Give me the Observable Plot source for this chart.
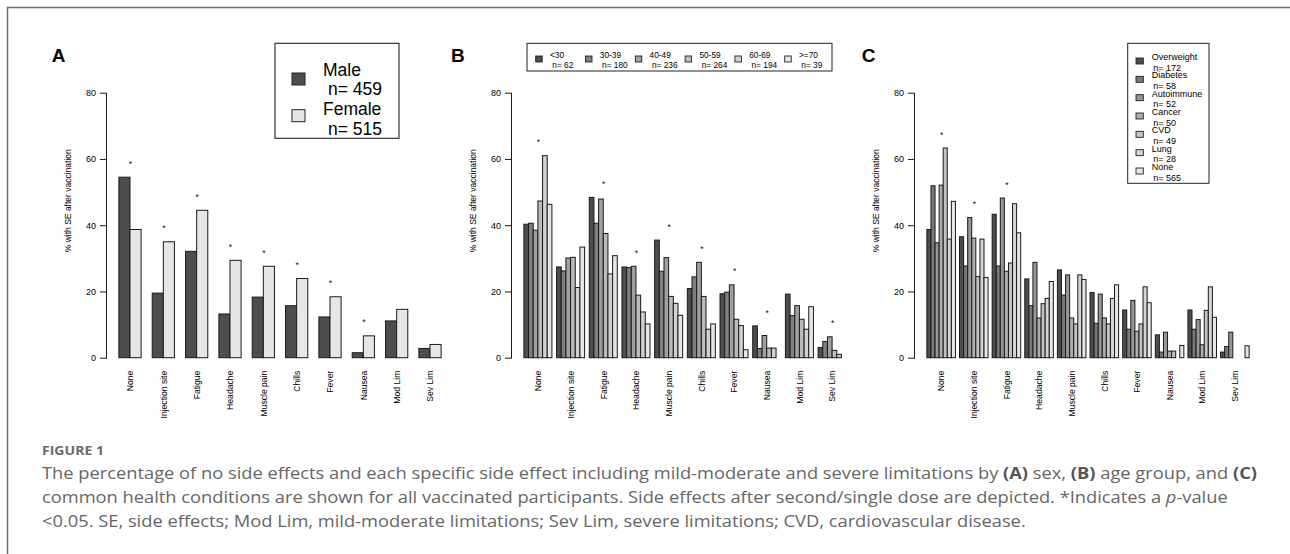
<!DOCTYPE html>
<html><head><meta charset="utf-8">
<script src="https://cdn.jsdelivr.net/npm/d3@7"></script>
<script src="https://cdn.jsdelivr.net/npm/@observablehq/plot@0.6"></script>
<style>
html,body{margin:0;padding:0;background:#fff;}
#root{position:relative;width:1290px;height:554px;overflow:hidden;font-family:"Liberation Sans",Arial,sans-serif;}
#root svg.panel{position:absolute;top:0;}
</style></head><body><div id="root"></div>
<script>
// ---------- data ----------
const effects = ["None","Injection site","Fatigue","Headache","Muscle pain","Chills","Fever","Nausea","Mod Lim","Sev Lim"];
const yTicks = [0, 20, 40, 60, 80];

// (A) sex
const sexGroups = ["Male", "Female"];
const sexN = [459, 515];
const sexMale   = [54.5, 19.5, 32.1, 13.2, 18.3, 15.7, 12.3, 1.5, 11.1, 2.8];
const sexFemale = [38.7, 35.0, 44.5, 29.4, 27.6, 23.9, 18.4, 6.6, 14.6, 4.0];
const sexSignificant = ["None","Injection site","Fatigue","Headache","Muscle pain","Chills","Fever","Nausea"];

// (B) age group
const ageGroups = ["<30", "30-39", "40-49", "50-59", "60-69", ">=70"];
const ageN = [62, 180, 236, 264, 194, 39];
const ageLt30  = [40.3, 27.4, 48.4, 27.4, 35.5, 20.9, 19.3, 9.6, 19.2, 3.1];
const age30s   = [40.6, 26.2, 40.6, 27.2, 26.1, 24.4, 19.8, 2.8, 12.7, 4.9];
const age40s   = [38.5, 30.1, 47.9, 27.6, 30.2, 28.8, 22.0, 6.7, 15.7, 6.3];
const age50s   = [47.3, 30.3, 37.5, 18.9, 18.5, 18.5, 11.6, 2.9, 11.6, 2.2];
const age60s   = [61.0, 21.2, 25.3, 13.8, 16.4, 8.6, 9.7, 2.9, 8.6, 1.0];
const age70up  = [46.3, 33.4, 30.8, 10.2, 12.8, 10.2, 2.4, 0, 15.4, 0];
const ageSignificant = ["None","Fatigue","Headache","Muscle pain","Chills","Fever","Nausea","Sev Lim"];

// (C) health conditions
const condGroups = ["Overweight", "Diabetes", "Autoimmune", "Cancer", "CVD", "Lung", "None"];
const condN = [172, 58, 52, 50, 49, 28, 565];
const condOverweight = [38.7, 36.5, 43.3, 23.8, 26.5, 19.7, 14.4, 6.9, 14.4, 1.7];
const condDiabetes   = [51.9, 27.7, 27.7, 15.7, 18.9, 10.4, 8.6, 1.7, 8.6, 3.4];
const condAutoimmune = [34.7, 42.3, 48.2, 28.8, 25.0, 19.2, 17.3, 7.7, 11.5, 7.7];
const condCancer     = [52.1, 36.1, 26.1, 12.0, 12.0, 12.0, 8.0, 2.0, 3.9, 0];
const condCVD        = [63.3, 24.5, 28.6, 16.3, 10.2, 10.2, 10.2, 2.0, 14.3, 0];
const condLung       = [35.8, 35.8, 46.5, 17.9, 25.0, 17.9, 21.4, 0, 21.4, 0];
const condNone       = [47.2, 24.2, 37.7, 23.0, 23.6, 22.0, 16.6, 3.7, 12.2, 3.6];
const condSignificant = ["None","Injection site","Fatigue"];

// ---------- drawing ----------
const root = document.getElementById("root");
const FONT = "'Liberation Sans', Arial, sans-serif";

function grays(n) {
  // R gray.colors(n): start 0.3, end 0.9, gamma 2.2
  const a = Math.pow(0.3, 2.2), b = Math.pow(0.9, 2.2);
  return d3.range(n).map(i => {
    const v = Math.round(255 * Math.pow(a + (b - a) * (n === 1 ? 0 : i / (n - 1)), 1 / 2.2));
    return d3.rgb(v, v, v).formatHex();
  });
}

function drawPanel({groups, values, significant, regionLeft}) {
  const n = groups.length, per = n + 1, W = effects.length * per;
  const ext = 0.04 * (W - 1);
  const colors = grays(n);
  const rows = [];
  effects.forEach((e, gi) => groups.forEach((g, si) =>
    rows.push({effect: e, group: g, value: values[si][gi], x1: gi * per + 1 + si, x2: gi * per + 2 + si})));
  const centerOf = new Map(effects.map((e, gi) => [gi * per + 1 + n / 2, e]));
  const centers = [...centerOf.keys()];
  const stars = effects.map((e, gi) => ({effect: e, x: gi * per + 1 + n / 2, y: d3.max(values, v => v[gi]) + 4.8}))
    .filter(d => significant.includes(d.effect));
  const mL = 107, regionW = 348, mR = 10;
  const chart = Plot.plot({
    width: mL + regionW + mR, height: 440,
    marginLeft: mL, marginRight: mR, marginTop: 92.7, marginBottom: 82.3,
    style: {fontFamily: FONT, fontSize: "8.5px", color: "#000", background: "transparent", overflow: "visible"},
    x: {domain: [1 - ext, W + ext]},
    y: {domain: [0, 80]},
    color: {type: "ordinal", domain: groups, range: colors},
    marks: [
      Plot.rect(rows, {x1: "x1", x2: "x2", y1: 0, y2: "value", fill: "group", stroke: "#1a1a1a", strokeWidth: 1}),
      Plot.text(stars, {x: "x", y: "y", text: () => "*", fontSize: 8.5, dy: 2.3, fill: "#111"}),
      Plot.frame({anchor: "left", stroke: "#1a1a1a", strokeWidth: 1}),
      Plot.axisY({ticks: yTicks, tickSize: 6, tickPadding: 4.5, fontSize: 9, label: null, stroke: "#1a1a1a"}),
      Plot.axisX({ticks: centers, tickFormat: d => centerOf.get(d), tickRotate: -90, tickSize: 0, tickPadding: 12.5, fontSize: 8.6, label: null}),
      Plot.text(["% with SE after vaccination"], {text: d => d, frameAnchor: "left", rotate: -90, textAnchor: "middle", lineAnchor: "middle", dx: -38, dy: -25, fontSize: 8.5})
    ]
  });
  chart.classList.add("panel");
  chart.style.left = (regionLeft - mL) + "px";
  root.appendChild(chart);
  return colors;
}

const colA = drawPanel({groups: sexGroups, values: [sexMale, sexFemale], significant: sexSignificant, regionLeft: 106.4});
const colB = drawPanel({groups: ageGroups, values: [ageLt30, age30s, age40s, age50s, age60s, age70up], significant: ageSignificant, regionLeft: 511.1});
const colC = drawPanel({groups: condGroups, values: [condOverweight, condDiabetes, condAutoimmune, condCancer, condCVD, condLung, condNone], significant: condSignificant, regionLeft: 914.4});

// ---------- overlay: frame, panel letters, legends, caption ----------
const ov = d3.select(root).append("svg")
  .attr("width", 1290).attr("height", 554)
  .style("position", "absolute").style("left", 0).style("top", 0).style("pointer-events", "none")
  .style("font-family", FONT);

ov.append("path").attr("d", "M7.5,554V7.5H1290").attr("fill", "none").attr("stroke", "#6e6e6e").attr("stroke-width", 1.5);

[["A", 51.7], ["B", 451], ["C", 861.7]].forEach(([t, x]) =>
  ov.append("text").attr("x", x).attr("y", 61.7).attr("font-size", 19).attr("font-weight", "bold").text(t));

function txt(t, x, y, size, fill = "#000") {
  return ov.append("text").attr("x", x).attr("y", y).attr("font-size", size).attr("fill", fill).text(t);
}
function box(x, y, w, h, fill, sw = 1) {
  return ov.append("rect").attr("x", x).attr("y", y).attr("width", w).attr("height", h)
    .attr("fill", fill).attr("stroke", "#222").attr("stroke-width", sw);
}

// Legend A
box(275, 43.3, 124, 95, "#fff", 1.1);
sexGroups.forEach((g, i) => {
  box(292, 73 + i * 36.7, 13, 12, colA[i], 1);
  txt(g, 323, 75.5 + i * 39, 17.5);
  txt("n= " + sexN[i], 328, 95 + i * 39.5, 17.5);
});

// Legend B
box(527, 43.3, 305, 27.7, "#fff", 1);
ageGroups.forEach((g, i) => {
  const x = 535.7 + i * 49.8;
  box(x, 56, 6.5, 6, colB[i], 0.9);
  txt(g, x + 14.3, 58.3, 8.3);
  txt("n= " + ageN[i], x + 16.6, 67.7, 8.3);
});

// Legend C
box(1127.7, 43.3, 81.3, 140, "#fff", 1);
condGroups.forEach((g, i) => {
  const yc = 61 + i * 18.33;
  box(1136, yc - 3, 7.3, 6, colC[i], 0.9);
  txt(g, 1151.7, 60 + i * 18.33, 9);
  txt("n= " + condN[i], 1153.3, 70.7 + i * 18.33, 9);
});

// Caption
const CAP = "'Open Sans', Lato, sans-serif";
ov.append("text").attr("x", 42).attr("y", 455).attr("font-family", CAP).attr("font-size", 12)
  .attr("font-weight", "bold").attr("fill", "#6a6a6a").attr("textLength", 62).attr("lengthAdjust", "spacingAndGlyphs").text("FIGURE 1");

const capLines = [
  [["The percentage of no side effects and each specific side effect including mild-moderate and severe limitations by ", ""], ["(A)", "b"], [" sex, ", ""], ["(B)", "b"], [" age group, and ", ""], ["(C)", "b"]],
  [["common health conditions are shown for all vaccinated participants. Side effects after second/single dose are depicted. *Indicates a ", ""], ["p", "i"], ["-value", ""]],
  [["<0.05. SE, side effects; Mod Lim, mild-moderate limitations; Sev Lim, severe limitations; CVD, cardiovascular disease.", ""]]
];
const capBase = [479.3, 503.3, 526.5];
const capLen = [1215, 1185.7, 983.7];
capLines.forEach((parts, li) => {
  const t = ov.append("text").attr("x", 42).attr("y", capBase[li]).attr("font-family", CAP).attr("font-size", 16)
    .attr("fill", "#666").attr("textLength", capLen[li]).attr("lengthAdjust", "spacingAndGlyphs").attr("xml:space", "preserve");
  parts.forEach(([s, f]) => {
    const ts = t.append("tspan").text(s);
    if (f === "b") ts.attr("font-weight", "bold").attr("fill", "#555");
    if (f === "i") ts.attr("font-style", "italic");
  });
});
</script></body></html>
